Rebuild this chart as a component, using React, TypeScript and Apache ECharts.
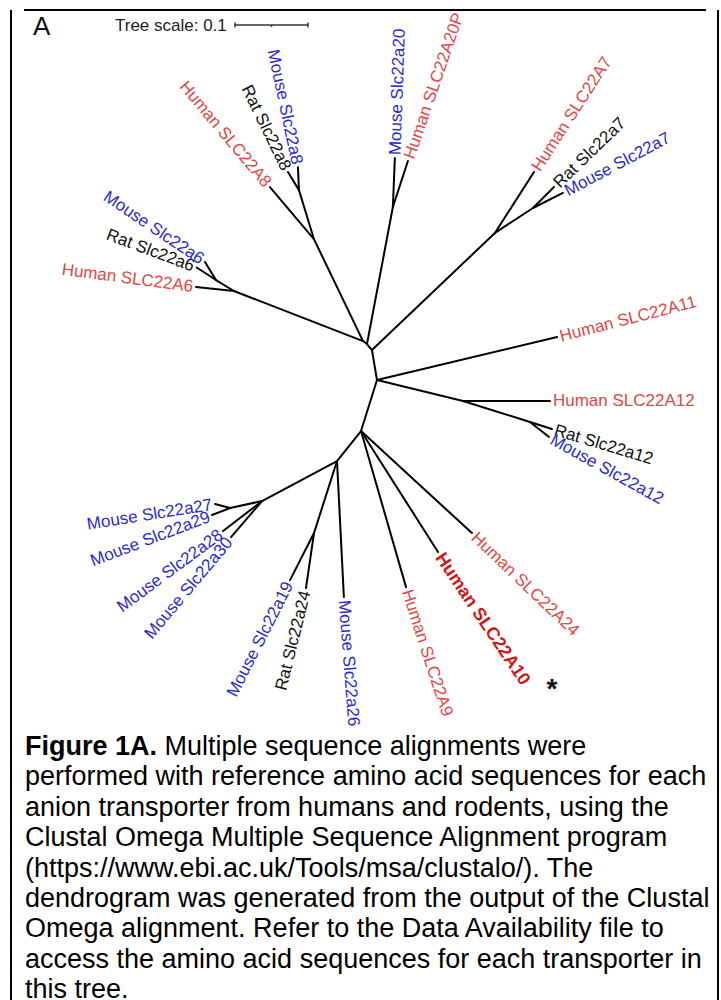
import React, { useEffect, useRef } from "react";
import * as echarts from "echarts";

// Unrooted SLC22 dendrogram. Branch lengths are in substitutions per site,
// directions are the layout angles (degrees, counter-clockwise from east).
const TREE_SCALE = 0.1;
const ROOT = "N4";

const innerIds = ["N3", "N2", "N1", "C6", "C6r", "C8", "C8r", "C20", "C7", "C7r", "C12", "C12r", "N5", "N6", "C19", "C27", "C27b"];
const innerParents = ["N4", "N3", "N2", "N1", "C6", "N1", "C8", "N2", "N3", "C7", "N4", "C12", "N4", "N5", "N6", "N6", "C27"];
const innerLengths = [0.0416, 0.0107, 0.0068, 0.1896, 0.0289, 0.1551, 0.0701, 0.191, 0.2326, 0.0623, 0.1212, 0.0962, 0.0733, 0.0526, 0.1036, 0.1164, 0.0449];
const innerAngles = [99.5, 129.8, 143.1, 158.8, 148.6, 115.7, 107, 79.3, 43.6, 33.3, -13.7, -17.4, -107.4, -128.7, -107.7, -151.9, -167.7];

const leafNames = [
  "Human SLC22A6", "Rat Slc22a6", "Mouse Slc22a6",
  "Human SLC22A8", "Rat Slc22a8", "Mouse Slc22a8",
  "Mouse Slc22a20", "Human SLC22A20P",
  "Human SLC22A7", "Rat Slc22a7", "Mouse Slc22a7",
  "Human SLC22A11",
  "Human SLC22A12", "Rat Slc22a12", "Mouse Slc22a12",
  "Human SLC22A24", "Human SLC22A10", "Human SLC22A9",
  "Mouse Slc22a26", "Rat Slc22a24", "Mouse Slc22a19",
  "Mouse Slc22a30", "Mouse Slc22a28", "Mouse Slc22a29", "Mouse Slc22a27",
];
const leafParents = [
  "C6", "C6r", "C6r",
  "C8", "C8r", "C8r",
  "C20", "C20",
  "C7", "C7r", "C7r",
  "N4",
  "C12", "C12r", "C12r",
  "N5", "N5", "N5",
  "N6", "C19", "C19",
  "C27", "C27", "C27b", "C27b",
];
const leafLengths = [
  0.0523, 0.0315, 0.0289,
  0.0933, 0.0289, 0.0315,
  0.0671, 0.0663,
  0.0992, 0.0407, 0.0459,
  0.2536,
  0.1192, 0.0316, 0.0332,
  0.2064, 0.1964, 0.2225,
  0.1866, 0.0762, 0.0723,
  0.0651, 0.0674, 0.0264, 0.0212,
];
const leafAngles = [
  174, 147, 121.4,
  130.2, 121.4, 92.5,
  87.7, 71.9,
  57.4, 45, 26.6,
  13.4,
  0, -17.6, -38.3,
  -42.6, -57.5, -73.9,
  -87.1, -98.3, -117,
  -130.7, -142.4, -158.7, 165,
];
const leafSpecies = [
  "Human", "Rat", "Mouse",
  "Human", "Rat", "Mouse",
  "Mouse", "Human",
  "Human", "Rat", "Mouse",
  "Human",
  "Human", "Rat", "Mouse",
  "Human", "Human", "Human",
  "Mouse", "Rat", "Mouse",
  "Mouse", "Mouse", "Mouse", "Mouse",
];
// Reading direction of each tip label (degrees) and whether the text ends at the tip
const labelAngles = [
  -7.6, -20.7, -34,
  -50, -64, -78,
  88, 71,
  57, 44, 28,
  14.4,
  0, -16.7, -29,
  -43.6, -56, -72,
  -85.5, 76, 63,
  50, 36.6, 21, 9,
];
const labelAtEnd = [
  true, true, true,
  true, true, true,
  false, false,
  false, false, false,
  false,
  false, false, false,
  false, false, false,
  false, true, true,
  true, true, true, true,
];
const HIGHLIGHT = "Human SLC22A10";

const captionLines = [
  "{b|Figure 1A.} Multiple sequence alignments were",
  "performed with reference amino acid sequences for each",
  "anion transporter from humans and rodents, using the",
  "Clustal Omega Multiple Sequence Alignment program",
  "(https://www.ebi.ac.uk/Tools/msa/clustalo/). The",
  "dendrogram was generated from the output of the Clustal",
  "Omega alignment. Refer to the Data Availability file to",
  "access the amino acid sequences for each transporter in",
  "this tree.",
];

const FONT = '"Liberation Sans", Arial, Helvetica, sans-serif';
const speciesColor: Record<string, string> = { Human: "#e44646", Mouse: "#2a2ad0", Rat: "#111111" };
const HIGHLIGHT_COLOR = "#d01818";

// Pixel scale of the tree: 0.1 substitutions per site spans 73 px
const PX_PER_UNIT = 730;
const ORIGIN_X = 377;
const ORIGIN_Y = 380;
const W = 721;
const H = 1000;

function layoutTree() {
  const pos: Record<string, [number, number]> = { [ROOT]: [0, 0] };
  const branches: number[][] = [];
  const place = (parent: string, len: number, ang: number) => {
    const p = pos[parent];
    const a = (ang * Math.PI) / 180;
    const c: [number, number] = [p[0] + len * Math.cos(a), p[1] + len * Math.sin(a)];
    branches.push([p[0], p[1], c[0], c[1]]);
    return c;
  };
  innerIds.forEach((id, i) => {
    pos[id] = place(innerParents[i], innerLengths[i], innerAngles[i]);
  });
  const tips = leafNames.map((_, i) => {
    const c = place(leafParents[i], leafLengths[i], leafAngles[i]);
    return [c[0], c[1], i];
  });
  return { branches, tips };
}

export default function App() {
  const ref = useRef<HTMLDivElement>(null);

  useEffect(() => {
    document.body.style.margin = "0";
    if (!ref.current) return;
    const chart = echarts.init(ref.current, undefined, { renderer: "svg" });
    const { branches, tips } = layoutTree();
    const LABEL_GAP = 3;

    chart.setOption({
      animation: false,
      backgroundColor: "#ffffff",
      grid: { left: 0, right: 0, top: 0, bottom: 0 },
      xAxis: {
        type: "value",
        min: -ORIGIN_X / PX_PER_UNIT,
        max: (W - ORIGIN_X) / PX_PER_UNIT,
        show: false,
      },
      yAxis: {
        type: "value",
        min: -(H - ORIGIN_Y) / PX_PER_UNIT,
        max: ORIGIN_Y / PX_PER_UNIT,
        show: false,
      },
      series: [
        {
          type: "custom",
          name: "branches",
          clip: false,
          data: branches,
          encode: { x: [0, 2], y: [1, 3] },
          renderItem: (_p: any, api: any) => {
            const a = api.coord([api.value(0), api.value(1)]);
            const b = api.coord([api.value(2), api.value(3)]);
            return {
              type: "line",
              shape: { x1: a[0], y1: a[1], x2: b[0], y2: b[1] },
              style: { stroke: "#000", lineWidth: 2, lineCap: "round" },
            };
          },
        },
        {
          type: "custom",
          name: "tips",
          clip: false,
          data: tips,
          encode: { x: 0, y: 1 },
          renderItem: (_p: any, api: any) => {
            const i = api.value(2) as number;
            const p = api.coord([api.value(0), api.value(1)]);
            const ang = (labelAngles[i] * Math.PI) / 180;
            const ux = Math.cos(ang);
            const uy = -Math.sin(ang);
            const end = labelAtEnd[i];
            const g = end ? -LABEL_GAP : LABEL_GAP;
            const hl = leafNames[i] === HIGHLIGHT;
            return {
              type: "text",
              x: p[0] + g * ux,
              y: p[1] + g * uy,
              rotation: ang,
              style: {
                text: leafNames[i],
                align: end ? "right" : "left",
                verticalAlign: "middle",
                fill: hl ? HIGHLIGHT_COLOR : speciesColor[leafSpecies[i]],
                font: hl ? `bold 18px ${FONT}` : `17px ${FONT}`,
              },
            };
          },
        },
        {
          type: "custom",
          name: "scale",
          clip: false,
          data: [[TREE_SCALE, 0]],
          encode: { x: 0, y: 1 },
          renderItem: (_p: any, api: any) => {
            const len = api.size([api.value(0), 0])[0];
            const x0 = 235;
            const y0 = 25;
            const st = { stroke: "#333", lineWidth: 1.5 };
            return {
              type: "group",
              children: [
                { type: "line", shape: { x1: x0, y1: y0, x2: x0 + len, y2: y0 }, style: st },
                { type: "line", shape: { x1: x0, y1: y0 - 2.5, x2: x0, y2: y0 + 2.5 }, style: st },
                { type: "line", shape: { x1: x0 + len, y1: y0 - 2.5, x2: x0 + len, y2: y0 + 2.5 }, style: st },
                { type: "line", shape: { x1: x0 + len / 2, y1: y0, x2: x0 + len / 2, y2: y0 + 2 }, style: st },
              ],
            };
          },
        },
      ],
      graphic: [
        { type: "line", shape: { x1: 11, y1: 10, x2: 11, y2: 1000 }, style: { stroke: "#000", lineWidth: 2 } },
        { type: "line", shape: { x1: 718, y1: 10, x2: 718, y2: 1000 }, style: { stroke: "#000", lineWidth: 2 } },
        { type: "line", shape: { x1: 24, y1: 10, x2: 706, y2: 10 }, style: { stroke: "#000", lineWidth: 2 } },
        {
          type: "text",
          x: 33,
          y: 26,
          style: { text: "A", font: `26px ${FONT}`, fill: "#111", verticalAlign: "middle" },
        },
        {
          type: "text",
          x: 115,
          y: 25,
          style: { text: "Tree scale: 0.1", font: `17px ${FONT}`, fill: "#222", verticalAlign: "middle" },
        },
        {
          type: "text",
          x: 552,
          y: 688,
          style: { text: "*", font: `bold 28px ${FONT}`, fill: "#111", align: "center", verticalAlign: "middle" },
        },
        ...captionLines.map((line, i) => ({
          type: "text",
          x: 25,
          y: 746 + i * 30.4,
          style: {
            text: line,
            font: `27px ${FONT}`,
            fill: "#000",
            verticalAlign: "middle",
            rich: { b: { font: `bold 27px ${FONT}`, fill: "#000" } },
          },
        })),
      ],
    });

    return () => chart.dispose();
  }, []);

  return <div ref={ref} style={{ width: W, height: H }} />;
}
